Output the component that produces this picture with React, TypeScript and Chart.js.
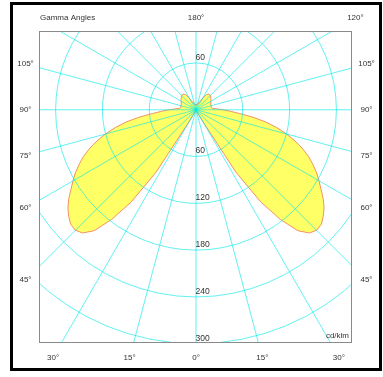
import React, { useEffect, useRef } from "react";
import { Chart, registerables } from "chart.js";

Chart.register(...registerables);

// Gamma angles (degrees, 0 = straight down, 180 = straight up)
const gammaAngles = [
  0, 2.5, 5, 7.5, 10, 12.5, 15, 17.5, 20, 22.5, 25, 27.5, 30, 32.5, 35, 37.5,
  40, 42.5, 45, 47.5, 50, 52.5, 55, 57.5, 60, 62.5, 65, 67.5, 70, 72.5, 75, 77.5,
  80, 82.5, 85, 87.5, 90, 92.5, 95, 97.5, 100, 102.5, 105, 107.5, 110, 112.5, 115, 117.5,
  120, 122.5, 125, 127.5, 130, 132.5, 135, 137.5, 140, 142.5, 145, 147.5, 150, 152.5, 155, 157.5,
  160, 162.5, 165, 167.5, 170, 172.5, 175, 177.5, 180,
];

// Luminous intensity, cd/klm, C0 plane (right half)
const intensityC0 = [
  2, 2, 2, 2, 2, 2, 3, 3, 3, 4, 5, 8, 18, 95, 145, 178,
  203, 215, 219, 218, 213, 207, 199, 190, 182, 174, 165, 156, 145, 133, 120, 106,
  91, 74, 56, 44, 34, 26, 21, 20, 20, 20, 20, 20, 20, 20.5, 21, 21.5,
  22, 22.5, 23.5, 24, 25, 25.5, 26, 26, 26, 25, 24, 21, 17, 14, 12, 10,
  9, 8, 7.5, 7, 7, 6.5, 6, 6, 6,
];

// Luminous intensity, cd/klm, C180 plane (left half)
const intensityC180 = [
  2, 2, 2, 2, 2, 2, 3, 3, 3, 4, 5, 8, 18, 95, 145, 178,
  203, 215, 219, 218, 213, 207, 199, 190, 182, 174, 165, 156, 145, 133, 120, 106,
  91, 74, 56, 44, 34, 26, 21, 20, 20, 20, 20, 20, 20, 20.5, 21, 21.5,
  22, 22.5, 23.5, 24, 25, 25.5, 26, 26, 26, 25, 24, 21, 17, 14, 12, 10,
  9, 8, 7.5, 7, 7, 6.5, 6, 6, 6,
];

const ringValues = [60, 120, 180, 240, 300];
const spokeStep = 15;
const rightAngleLabels = [180, 120, 105, 90, 75, 60, 45, 30, 15];
const leftAngleLabels = [105, 90, 75, 60, 45, 30, 15, 0];
const titleText = "Gamma Angles";
const unitText = "cd/klm";

const FONT = '"Liberation Sans", Arial, sans-serif';

function toPoints(intensity: number[], side: number) {
  return gammaAngles.map((g, i) => {
    const a = (g * Math.PI) / 180;
    return { x: side * intensity[i] * Math.sin(a), y: -intensity[i] * Math.cos(a) };
  });
}

const polarPlugin = {
  id: "polarGrid",
  afterDatasetsDraw(chart: any) {
    const { ctx, chartArea, scales } = chart;
    const xs = scales.x;
    const ys = scales.y;
    const cx = xs.getPixelForValue(0);
    const cy = ys.getPixelForValue(0);
    const k = (xs.getPixelForValue(100) - cx) / 100;
    ctx.save();
    ctx.beginPath();
    ctx.rect(chartArea.left, chartArea.top, chartArea.right - chartArea.left, chartArea.bottom - chartArea.top);
    ctx.clip();
    ctx.strokeStyle = "rgba(0,232,232,0.62)";
    ctx.lineWidth = 1;
    for (const r of ringValues) {
      ctx.beginPath();
      ctx.arc(cx, cy, r * k, 0, Math.PI * 2);
      ctx.stroke();
    }
    for (let a = 0; a < 360; a += spokeStep) {
      const rad = (a * Math.PI) / 180;
      ctx.beginPath();
      ctx.moveTo(cx, cy);
      ctx.lineTo(cx + 1000 * Math.sin(rad), cy + 1000 * Math.cos(rad));
      ctx.stroke();
    }
    ctx.restore();
  },
  afterDraw(chart: any) {
    const { ctx, chartArea, scales } = chart;
    const xs = scales.x;
    const ys = scales.y;
    const cx = xs.getPixelForValue(0);
    const cy = ys.getPixelForValue(0);
    const k = (xs.getPixelForValue(100) - cx) / 100;
    const { left, right, top, bottom } = chartArea;
    ctx.save();
    // plot frame
    ctx.strokeStyle = "#8a8a8a";
    ctx.lineWidth = 1;
    ctx.strokeRect(left - 0.5, top - 0.5, right - left, bottom - top);

    ctx.fillStyle = "#333";
    ctx.font = `8px ${FONT}`;
    ctx.textBaseline = "middle";

    // gamma angle labels, placed on the spokes' extension around the frame
    const band = 14.5;
    const L = left - band, R = right + band, T = top - 14.3, B = bottom + 14.3;
    const place = (g: number, side: number) => {
      const rad = (g * Math.PI) / 180;
      const dx = side * Math.sin(rad);
      const dy = Math.cos(rad);
      let t = Infinity;
      if (dx > 1e-9) t = Math.min(t, (R - cx) / dx);
      if (dx < -1e-9) t = Math.min(t, (L - cx) / dx);
      if (dy > 1e-9) t = Math.min(t, (B - cy) / dy);
      if (dy < -1e-9) t = Math.min(t, (T - cy) / dy);
      ctx.textAlign = "center";
      ctx.fillText(`${g}°`, cx + dx * t, cy + dy * t);
    };
    rightAngleLabels.forEach((g) => place(g, 1));
    leftAngleLabels.forEach((g) => place(g, -1));

    ctx.textAlign = "left";
    ctx.fillText(titleText, left, T);
    ctx.textAlign = "right";
    ctx.fillText(unitText, right - 3, bottom - 7.5);

    // ring labels
    ctx.font = `8.5px ${FONT}`;
    ctx.textAlign = "left";
    for (const r of ringValues) {
      const yTop = cy - r * k;
      const yBot = cy + r * k;
      if (yTop > top + 8) ctx.fillText(String(r), cx - 0.5, yTop - 5.5);
      if (yBot <= bottom + 2) ctx.fillText(String(r), cx - 0.5, yBot - 5.5);
    }
    ctx.restore();
  },
};

export default function App() {
  const ref = useRef<HTMLCanvasElement | null>(null);
  useEffect(() => {
    if (!ref.current) return;
    const style = {
      borderColor: "rgb(240,145,100)",
      borderWidth: 1,
      backgroundColor: "rgb(255,255,102)",
      fill: "shape" as any,
      showLine: true,
      pointRadius: 0,
      tension: 0,
    };
    const chart = new Chart(ref.current, {
      type: "scatter",
      data: {
        datasets: [
          { label: "C0", data: toPoints(intensityC0, 1), ...style },
          { label: "C180", data: toPoints(intensityC180, -1), ...style },
        ],
      },
      options: {
        responsive: false,
        animation: false,
        devicePixelRatio: 1,
        layout: { padding: { left: 40, right: 31, top: 32, bottom: 34 } },
        plugins: { legend: { display: false }, tooltip: { enabled: false } },
        scales: {
          x: { type: "linear", min: -200, max: 200, display: false },
          y: { type: "linear", min: -300, max: 100, display: false },
        },
      },
      plugins: [polarPlugin],
    });
    return () => chart.destroy();
  }, []);

  return (
    <div style={{ position: "absolute", left: 0, top: 0, width: 383, height: 377, background: "#fff" }}>
      <div
        style={{
          position: "absolute",
          left: 10,
          top: 2,
          width: 372,
          height: 369,
          border: "3px solid #000",
          boxSizing: "border-box",
        }}
      />
      <canvas
        ref={ref}
        width={383}
        height={377}
        style={{ position: "absolute", left: 0, top: 0, width: 383, height: 377 }}
      />
    </div>
  );
}
